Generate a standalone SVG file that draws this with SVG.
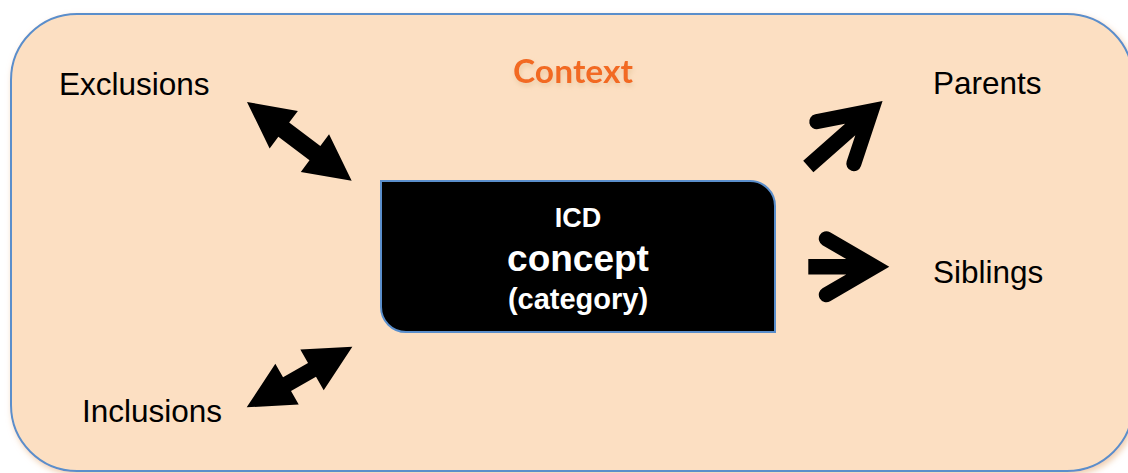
<svg xmlns="http://www.w3.org/2000/svg" width="1128" height="473" viewBox="0 0 1128 473">
  <defs>
    <filter id="bgShadow" x="-5%" y="-5%" width="110%" height="115%">
      <feDropShadow dx="2" dy="3" stdDeviation="3" flood-color="#E9B88A" flood-opacity="0.7"/>
    </filter>
    <filter id="glow" x="-20%" y="-40%" width="140%" height="180%">
      <feGaussianBlur in="SourceAlpha" stdDeviation="2.5" result="b"/>
      <feOffset in="b" dx="1" dy="3" result="o"/>
      <feFlood flood-color="#E8C9A0" flood-opacity="0.9"/>
      <feComposite in2="o" operator="in" result="s"/>
      <feMerge><feMergeNode in="s"/><feMergeNode in="SourceGraphic"/></feMerge>
    </filter>
  </defs>
  <style>
    .lbl { font-family: "Liberation Sans", Arial, sans-serif; font-size: 31.5px; fill: #000; }
    .ctr { font-family: "Liberation Sans", Arial, sans-serif; font-weight: bold; fill: #fff; text-anchor: middle; }
    .arrow { fill: #000; }
  </style>
  <rect id="context-bg" x="11" y="14" width="1122" height="457" rx="66" ry="66" fill="#FCDFC2" stroke="#5A8ECB" stroke-width="2" filter="url(#bgShadow)"/>
  <g id="context-title">
    <text x="573" y="83" font-family="Lato, 'Open Sans', sans-serif" font-weight="bold" font-size="32" fill="#F26A21" text-anchor="middle" textLength="120" lengthAdjust="spacingAndGlyphs" filter="url(#glow)">Context</text>
  </g>
  <g id="concept">
    <path d="M381,181 H750 A25,25 0 0 1 775,206 V332 H406 A25,25 0 0 1 381,307 Z" fill="#000" stroke="#5A8ECB" stroke-width="2"/>
    <text class="ctr" x="578" y="227" font-size="27">ICD</text>
    <text class="ctr" x="578" y="271" font-size="37">concept</text>
    <text class="ctr" x="578" y="309" font-size="29">(category)</text>
  </g>
  <g id="exclusions"><text class="lbl" x="59" y="95">Exclusions</text></g>
  <g id="parents"><text class="lbl" x="933" y="94">Parents</text></g>
  <g id="siblings"><text class="lbl" x="933" y="283">Siblings</text></g>
  <g id="inclusions"><text class="lbl" x="82" y="422">Inclusions</text></g>
  <g id="connectors">
    <path class="arrow" transform="translate(247,102) rotate(36.96)" d="M0,0 L46,-23.5 L46,-9 L85,-9 L85,-23.5 L131,0 L85,23.5 L85,9 L46,9 L46,23.5 Z"/>
    <path class="arrow" transform="translate(246.7,407.3) rotate(-29.85)" d="M0,0 L46.5,-23.5 L46.5,-8 L75.3,-8 L75.3,-23.5 L121.8,0 L75.3,23.5 L75.3,8 L46.5,8 L46.5,23.5 Z"/>
    <path class="arrow" transform="translate(808.3,166.5) rotate(-41.4)" d="M0,-7.7 L55.9,-7.7 L32.2,-21.5 A7.5,7.5 0 0 1 39.8,-34.5 L99,0 L39.8,34.5 A7.5,7.5 0 0 1 32.2,21.5 L55.9,7.7 L0,7.7 Z"/>
    <path class="arrow" transform="translate(808.3,266.7)" d="M0,-7.7 L37.9,-7.7 L14.2,-21.5 A7.5,7.5 0 0 1 21.8,-34.5 L81,0 L21.8,34.5 A7.5,7.5 0 0 1 14.2,21.5 L37.9,7.7 L0,7.7 Z"/>
  </g>
</svg>
